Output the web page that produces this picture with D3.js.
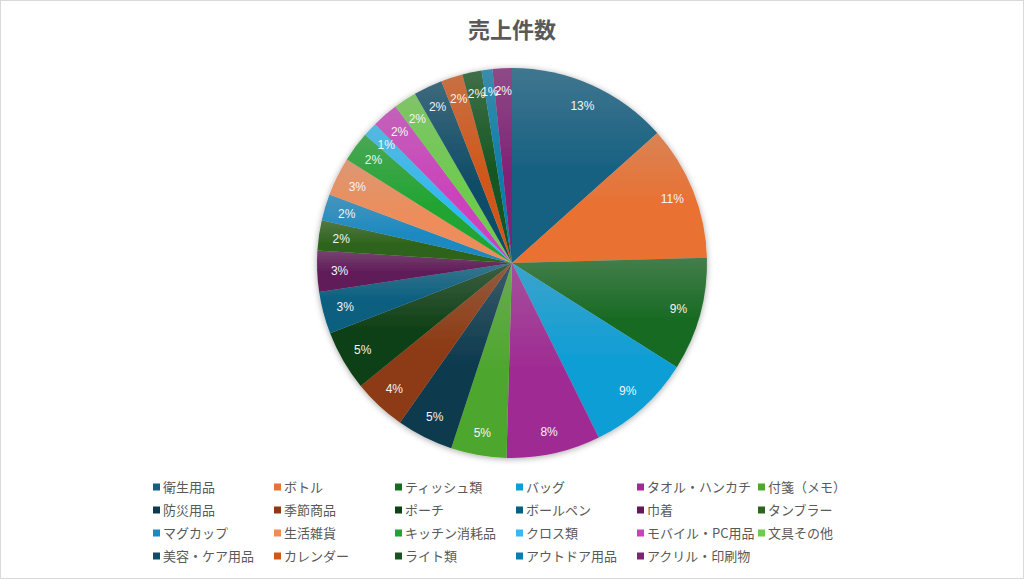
<!DOCTYPE html>
<html>
<head>
<meta charset="utf-8">
<script src="https://cdn.jsdelivr.net/npm/d3@7"></script>
<style>
  html, body { margin: 0; padding: 0; background: #fff; }
  svg { display: block; }
</style>
</head>
<body>
<svg id="chart" width="1024" height="579"></svg>
<script>

// data
var categories = ["衛生用品", "ボトル", "ティッシュ類", "バッグ", "タオル・ハンカチ", "付箋（メモ）",
  "防災用品", "季節商品", "ポーチ", "ボールペン", "巾着", "タンブラー",
  "マグカップ", "生活雑貨", "キッチン消耗品", "クロス類", "モバイル・PC用品", "文具その他",
  "美容・ケア用品", "カレンダー", "ライト類", "アウトドア用品", "アクリル・印刷物"];

var salesCount = [134, 112, 94, 87, 78, 46,
  47, 44, 50, 35, 34, 25,
  22, 32, 25, 12, 22, 19,
  24, 18, 16, 9, 16];

var sliceColors = ["#156082", "#E97132", "#196B24", "#0F9ED5", "#A02B93", "#4EA72E",
  "#0D3A4E", "#8C3A12", "#0F4016", "#095F80", "#601A58", "#2F641C",
  "#1F8AC0", "#ED8D5B", "#22A432", "#33BAF0", "#CB43BC", "#6ECB4E",
  "#114D68", "#D0571A", "#145620", "#0C7EAA", "#802276"];

var chartTitle = "売上件数";


var svg = d3.select("#chart");
var W = 1024, H = 579;
var cx = 512, cy = 263, radius = 195;
var textGray = "#595959";
var fontJP = "'Noto Sans CJK JP', 'Noto Sans', sans-serif";

// frame
svg.append("rect")
  .attr("x", 0.5).attr("y", 0.5)
  .attr("width", W - 1).attr("height", H - 1)
  .attr("fill", "#fff")
  .attr("stroke", "#d9d9d9");

var defs = svg.append("defs");

var shadow = defs.append("filter")
  .attr("id", "pieShadow")
  .attr("x", "-10%").attr("y", "-10%")
  .attr("width", "120%").attr("height", "120%");
shadow.append("feDropShadow")
  .attr("dx", 0).attr("dy", 1)
  .attr("stdDeviation", 3)
  .attr("flood-color", "#000")
  .attr("flood-opacity", 0.35);

// a soft vertical gradient per slice, paler at the top
sliceColors.forEach(function(c, i) {
  var g = defs.append("linearGradient")
    .attr("id", "grad" + i)
    .attr("x1", 0).attr("y1", 0).attr("x2", 0).attr("y2", 1);
  g.append("stop").attr("offset", "0%").attr("stop-color", d3.interpolateRgb(c, "#b0b0b0")(0.28));
  g.append("stop").attr("offset", "55%").attr("stop-color", c);
  g.append("stop").attr("offset", "100%").attr("stop-color", c);
});

// title
svg.append("text")
  .attr("x", cx)
  .attr("y", 38)
  .attr("text-anchor", "middle")
  .attr("font-family", fontJP)
  .attr("font-size", 22)
  .attr("font-weight", "bold")
  .attr("fill", textGray)
  .text(chartTitle);


//--------------------------------------
// PIE
//--------------------------------------

var total = d3.sum(salesCount);

var pie = d3.pie()
  .sort(null)
  .value(function(d) { return d; });

var arc = d3.arc()
  .innerRadius(0)
  .outerRadius(radius);

var labelArc = d3.arc()
  .innerRadius(radius * 0.885)
  .outerRadius(radius * 0.885);

var arcs = pie(salesCount);

var pieGroup = svg.append("g")
  .attr("transform", "translate(" + cx + "," + cy + ")");

pieGroup.append("g")
  .attr("filter", "url(#pieShadow)")
  .selectAll("path")
  .data(arcs)
  .enter().append("path")
    .attr("d", arc)
    .attr("fill", function(d, i) { return "url(#grad" + i + ")"; });

pieGroup.append("g")
  .selectAll("text")
  .data(arcs)
  .enter().append("text")
    .attr("transform", function(d) { return "translate(" + labelArc.centroid(d) + ")"; })
    .attr("text-anchor", "middle")
    .attr("dy", "0.35em")
    .attr("font-family", "'Liberation Sans', Arial, sans-serif")
    .attr("font-size", 12)
    .attr("fill", "#f4f4f4")
    .text(function(d) { return Math.round(d.value / total * 100) + "%"; });


//--------------------------------------
// LEGEND
//--------------------------------------

var legendCols = 6;
var colX = d3.scaleLinear().domain([0, 1]).range([153, 274]);
var rowY = d3.scaleLinear().domain([0, 1]).range([487, 510]);

var legend = svg.append("g")
  .selectAll("g")
  .data(categories)
  .enter().append("g")
    .attr("transform", function(d, i) {
      return "translate(" + colX(i % legendCols) + "," + rowY(Math.floor(i / legendCols)) + ")";
    });

legend.append("rect")
  .attr("x", 0).attr("y", -3.5)
  .attr("width", 7).attr("height", 7)
  .attr("fill", function(d, i) { return sliceColors[i]; });

legend.append("text")
  .attr("x", 10)
  .attr("dy", "0.36em")
  .attr("font-family", fontJP)
  .attr("font-size", 13)
  .attr("fill", textGray)
  .text(function(d) { return d; });

</script>
</body>
</html>
